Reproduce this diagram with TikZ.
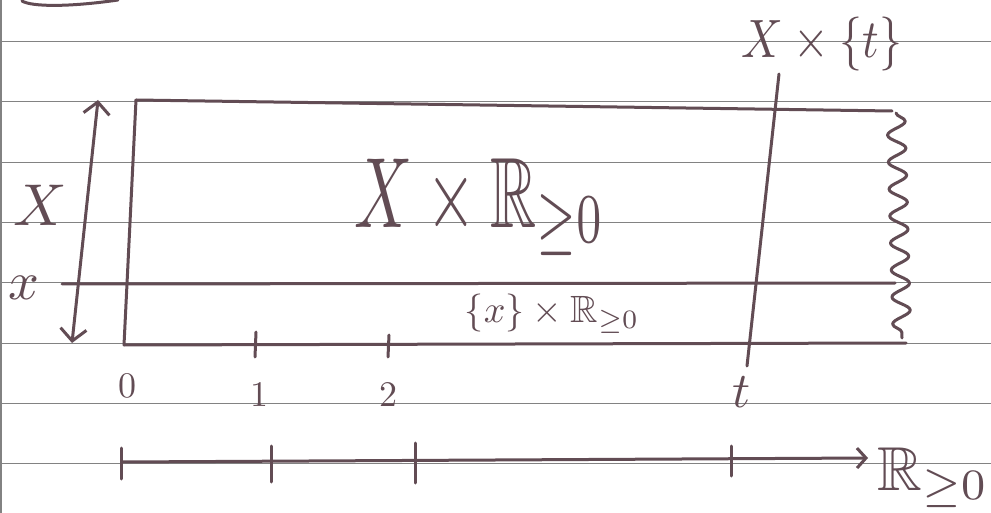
\documentclass[tikz,border=0pt]{standalone}
\usepackage{amssymb}
\usepackage{graphicx}
\usetikzlibrary{decorations.pathmorphing,arrows.meta}
\definecolor{ink}{RGB}{98,76,84}
\definecolor{ruleline}{RGB}{130,130,130}
\begin{document}
\begin{tikzpicture}[x=1pt,y=-1pt,
  pen/.style={draw=ink,line width=3pt,line cap=round,line join=round},
  lbl/.style={text=ink,inner sep=0pt},
  barb/.style={{Straight Barb[length=12pt,width=26pt,line width=3pt]}-{Straight Barb[length=12pt,width=26pt,line width=3pt]}},
  tip/.style={-{Straight Barb[length=9pt,width=20pt,line width=3pt]}}]
\useasboundingbox (0,0) rectangle (991,513);
\fill[white] (0,0) rectangle (991,513);
% ruled notebook lines
\foreach \yy in {42,102,163,223,283,343,403,463}
  \draw[ruleline,line width=1pt] (0,\yy) -- (991,\yy);
\draw[ruleline,line width=1.4pt] (1,0) -- (1,513);
\draw[pen] (22,1) .. controls (32,7) and (70,7) .. (118,0);

% coordinates
\coordinate (TL) at (136,100);
\coordinate (TR) at (892,111);
\coordinate (BL) at (124,345);
\coordinate (BR) at (906,343);
\coordinate (WT) at (896,113);
\coordinate (WB) at (902,338);
\coordinate (XL) at (62,284);
\coordinate (XR) at (895,283);
\coordinate (TT) at (779,74);
\coordinate (TB) at (747,366);
\coordinate (AT) at (98,100);
\coordinate (AB) at (72,343);
\coordinate (K1t) at (256,332);
\coordinate (K1b) at (255,357);
\coordinate (K2t) at (389,335);
\coordinate (K2b) at (388,357);
\coordinate (A0) at (122,462);
\coordinate (A1) at (868,458);
\coordinate (M0t) at (121,448);
\coordinate (M0b) at (121,479);
\coordinate (M1t) at (271,446);
\coordinate (M1b) at (271,482);
\coordinate (M2t) at (415,443);
\coordinate (M2b) at (415,483);
\coordinate (M3t) at (731,446);
\coordinate (M3b) at (731,476);

% rectangle X x R>=0
\draw[pen] (TL) -- (TR);
\draw[pen] (TL) -- (BL);
\draw[pen] (BL) -- (BR);
\draw[pen,decorate,decoration={snake,segment length=27pt,amplitude=9pt}] (WT) -- (WB);
\draw[pen] (XL) -- (XR);
\draw[pen] (TT) -- (TB);
\draw[pen,barb] (AT) -- (AB);
\draw[pen] (K1t) -- (K1b);
\draw[pen] (K2t) -- (K2b);

% bottom axis
\draw[pen,tip] (A0) -- (A1);
\draw[pen] (M0t) -- (M0b);
\draw[pen] (M1t) -- (M1b);
\draw[pen] (M2t) -- (M2b);
\draw[pen] (M3t) -- (M3b);

% labels
\node[lbl] (lmain) at (480,207) {\scalebox{6.4}[10]{$X\times\mathbb{R}_{\geq 0}$}};
\node[lbl] (lX) at (40,205) {\scalebox{5.9}{$X$}};
\node[lbl] (lx) at (24,288) {\scalebox{5.4}{$x$}};
\node[lbl] (ltop) at (822,44) {\scalebox{4.6}[5.4]{$X\times\{t\}$}};
\node[lbl] (lline) at (552,314) {\scalebox{3.8}{$\{x\}\times\mathbb{R}_{\geq 0}$}};
\node[lbl] (l0) at (127,386) {\scalebox{3.6}{$0$}};
\node[lbl] (l1) at (259,395) {\scalebox{3.6}{$1$}};
\node[lbl] (l2) at (388,395) {\scalebox{3.6}{$2$}};
\node[lbl] (lt) at (742,392) {\scalebox{5}{$t$}};
\node[lbl] (lR) at (933,478) {\scalebox{6.2}{$\mathbb{R}_{\geq 0}$}};
\end{tikzpicture}
\end{document}
